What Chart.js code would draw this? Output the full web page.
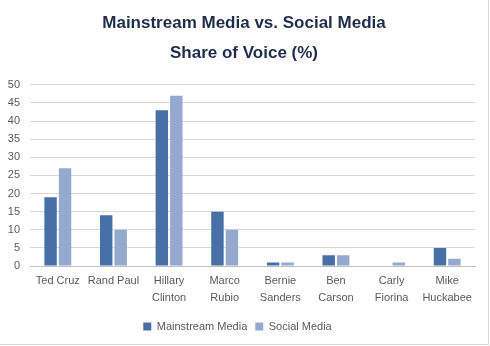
<!DOCTYPE html>
<html>
<head>
<meta charset="utf-8">
<script src="https://cdn.jsdelivr.net/npm/chart.js@4/dist/chart.umd.min.js"></script>
<style>
  html, body { margin: 0; padding: 0; background: #fff; }
  #wrap { width: 488px; height: 344px; border-right: 1px solid #d9d9d9; border-bottom: 1px solid #d9d9d9; position: relative; }
</style>
</head>
<body>
<div id="wrap"><canvas id="chart" width="488" height="344"></canvas></div>
<script>
// share of voice by candidate
const candidates = [
  'Ted Cruz', 'Rand Paul', ['Hillary', 'Clinton'], ['Marco', 'Rubio'],
  ['Bernie', 'Sanders'], ['Ben', 'Carson'], ['Carly', 'Fiorina'], ['Mike', 'Huckabee']
]
const mainstream = [19, 14, 43, 15, 1, 3, 0, 5]
const social     = [27, 10, 47, 10, 1, 3, 1, 2]
const yTicks = [0, 5, 10, 15, 20, 25, 30, 35, 40, 45, 50]

const grey = '#595959'
const font = 'Liberation Sans, Arial, sans-serif'

// center the title on the full canvas, not on the padded box
const titleCenter = {
  id: 'titleCenter',
  afterLayout (chart) {
    if (chart.titleBlock) { chart.titleBlock.left = 0; chart.titleBlock.right = chart.width }
  }
}

new Chart(document.getElementById('chart'), {
  type: 'bar',
  data: {
    labels: candidates,
    datasets: [
      { label: 'Mainstream Media', data: mainstream, backgroundColor: '#4670a6',
        categoryPercentage: 0.52, barPercentage: 0.86 },
      { label: 'Social Media', data: social, backgroundColor: '#95a8ce',
        categoryPercentage: 0.52, barPercentage: 0.86 }
    ]
  },
  plugins: [titleCenter],
  options: {
    responsive: false,
    animation: false,
    layout: { padding: { left: 0, right: 13, top: 6, bottom: 2 } },
    plugins: {
      title: {
        display: true,
        text: ['Mainstream Media vs. Social Media', 'Share of Voice (%)'],
        color: '#1f2d4a',
        font: { family: font, size: 17, weight: 'bold', lineHeight: 1.76 },
        padding: { top: 2, bottom: 17 }
      },
      legend: {
        position: 'bottom',
        labels: {
          color: grey,
          font: { family: font, size: 11 },
          boxWidth: 8, boxHeight: 8,
          padding: 8
        }
      },
      tooltip: { enabled: false }
    },
    scales: {
      x: {
        grid: { display: false },
        border: { color: '#bfbfbf' },
        afterFit (scale) { scale.height = 47 },
        ticks: { color: grey, font: { family: font, size: 11, lineHeight: 1.5 }, maxRotation: 0, autoSkip: false, padding: -1 }
      },
      y: {
        min: 0, max: 50,
        afterBuildTicks (scale) { scale.ticks = yTicks.map(v => ({ value: v })) },
        afterFit (scale) { scale.width = 30 },
        grid: { color: '#d9d9d9', drawTicks: false },
        border: { display: false },
        ticks: { color: grey, font: { family: font, size: 11 }, padding: 10 }
      }
    }
  }
})
</script>
</body>
</html>
